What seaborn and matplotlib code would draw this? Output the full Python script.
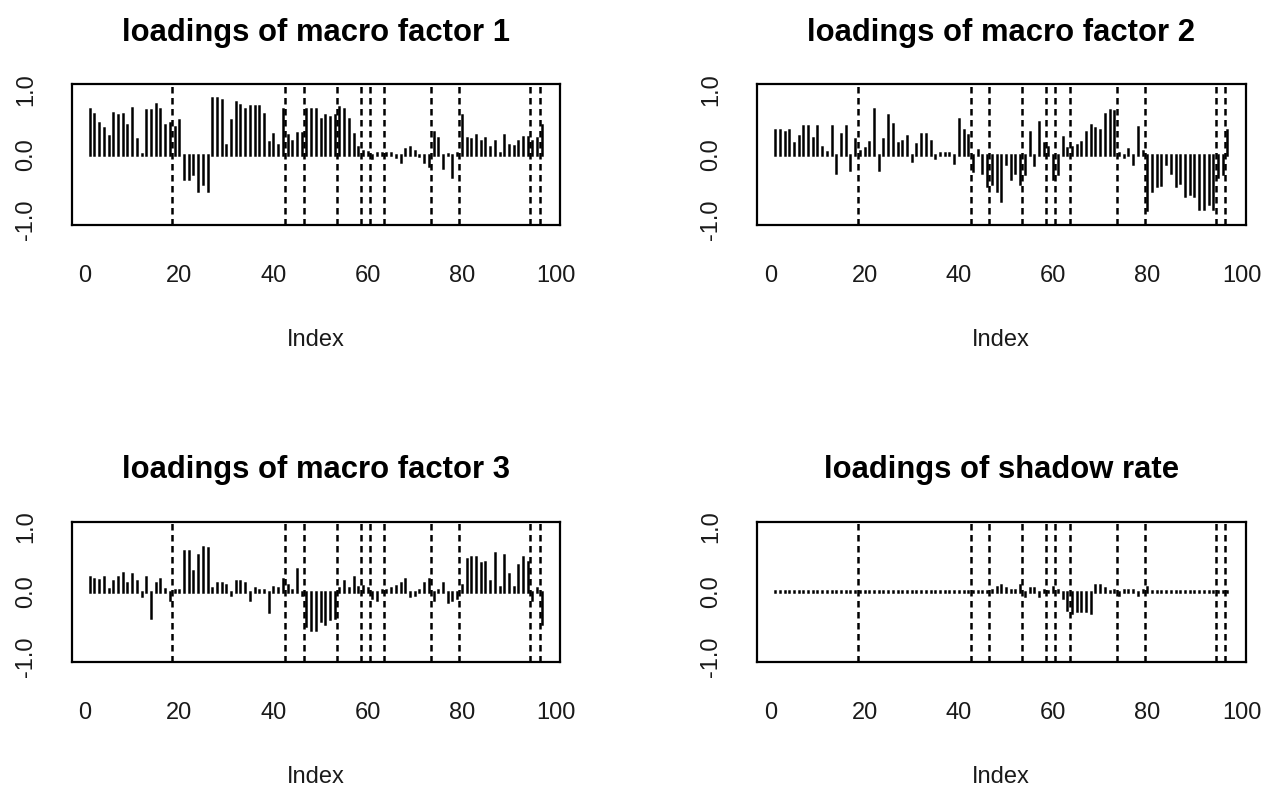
import numpy as np
import matplotlib
matplotlib.use("Agg")
import matplotlib.pyplot as plt
import seaborn as sns

# loadings of each series (index 1..97) on the three macro factors and the shadow rate
factor1 = [0.69, 0.62, 0.48, 0.41, 0.29, 0.63, 0.61, 0.62, 0.45, 0.72,
           0.23, 0.01, 0.68, 0.68, 0.77, 0.70, 0.45, 0.48, 0.42, 0.53,
           -0.37, -0.37, -0.30, -0.56, -0.45, -0.56, 0.87, 0.87, 0.84, 0.14,
           0.53, 0.80, 0.76, 0.70, 0.75, 0.75, 0.75, 0.62, 0.19, 0.31,
           0.14, 0.69, 0.30, 0.20, 0.33, 0.33, 0.69, 0.69, 0.70, 0.55,
           0.60, 0.57, 0.60, 0.73, 0.70, 0.55, 0.32, 0.12, 0.05, 0.04,
           -0.05, 0.03, 0.03, 0.02, 0.03, -0.04, -0.12, 0.08, 0.12, 0.05,
           -0.03, -0.12, -0.18, 0.35, 0.25, -0.20, 0.01, -0.35, 0.02, 0.60,
           0.25, 0.24, 0.30, 0.20, 0.25, 0.12, 0.20, 0.02, 0.30, 0.15,
           0.13, 0.20, 0.27, 0.27, 0.20, 0.25, 0.45]

factor2 = [0.38, 0.38, 0.35, 0.38, 0.17, 0.29, 0.44, 0.44, 0.26, 0.44,
           0.11, 0.04, 0.44, -0.29, 0.31, 0.44, -0.23, 0.23, 0.05, 0.10,
           0.19, 0.69, -0.23, 0.23, 0.60, 0.47, 0.17, 0.20, 0.29, -0.10,
           0.16, 0.32, 0.32, 0.20, -0.05, 0.02, 0.03, 0.02, -0.13, 0.54,
           0.38, 0.30, -0.25, 0.07, -0.29, -0.48, -0.45, -0.56, -0.71, -0.15,
           -0.38, -0.28, -0.45, -0.30, 0.34, -0.16, 0.50, 0.18, 0.12, -0.38,
           -0.30, 0.27, 0.10, 0.12, 0.15, 0.19, 0.34, 0.45, 0.40, 0.37,
           0.62, 0.68, 0.66, 0.03, -0.04, 0.09, -0.15, 0.42, 0.05, -0.85,
           -0.56, -0.48, -0.46, -0.15, -0.29, -0.48, -0.43, -0.63, -0.61, -0.63,
           -0.84, -0.84, -0.76, -0.84, -0.35, -0.30, 0.37]

factor3 = [0.23, 0.20, 0.18, 0.23, 0.04, 0.17, 0.23, 0.29, 0.14, 0.27,
           0.17, -0.07, 0.23, -0.41, 0.14, 0.20, 0.04, -0.12, 0.03, 0.02,
           0.63, 0.63, 0.32, 0.57, 0.69, 0.67, 0.05, 0.14, 0.14, 0.10,
           -0.05, 0.17, 0.17, 0.14, -0.13, 0.05, 0.03, 0.02, -0.31, 0.08,
           0.05, 0.19, 0.10, 0.02, 0.35, -0.05, -0.53, -0.59, -0.59, -0.45,
           -0.50, -0.42, -0.40, 0.05, 0.17, 0.05, 0.23, 0.07, 0.09, 0.05,
           -0.10, -0.13, 0.03, 0.03, 0.05, 0.09, 0.14, 0.20, -0.07, -0.05,
           0.02, 0.13, 0.20, -0.12, 0.02, 0.14, -0.15, -0.12, -0.09, 0.10,
           0.51, 0.54, 0.54, 0.44, 0.45, 0.17, 0.60, 0.08, 0.57, 0.27,
           0.08, 0.41, 0.54, 0.46, -0.13, 0.05, -0.50]

shadow = [0.01, 0.01, 0.01, 0.01, 0.01, 0.01, 0.01, 0.01, 0.01, 0.01,
          0.01, 0.01, 0.01, 0.01, 0.01, 0.01, 0.01, 0.01, 0.01, 0.01,
          0.01, 0.01, 0.01, 0.01, 0.01, 0.01, 0.01, 0.01, 0.01, 0.01,
          0.01, 0.01, 0.01, 0.01, 0.01, 0.01, 0.01, 0.01, 0.01, 0.01,
          0.01, 0.01, 0.01, 0.01, 0.01, 0.01, 0.03, 0.07, 0.10, 0.05,
          0.02, 0.03, 0.10, -0.06, 0.05, 0.05, -0.07, 0.02, 0.01, 0.07,
          0.03, -0.10, -0.28, -0.33, -0.30, -0.30, -0.30, -0.33, 0.10, 0.10,
          0.05, 0.01, 0.02, -0.05, 0.02, 0.02, 0.03, -0.05, 0.02, 0.08,
          0.01, 0.01, 0.01, 0.01, 0.01, 0.01, 0.01, 0.01, 0.01, 0.01,
          0.01, 0.01, 0.01, 0.01, 0.01, 0.01, 0.01]

# group boundaries between blocks of series
breaks = [18.5, 42.5, 46.5, 53.5, 58.5, 60.5, 63.5, 73.5, 79.5, 94.5, 96.5]

titles = ["loadings of macro factor 1", "loadings of macro factor 2",
          "loadings of macro factor 3", "loadings of shadow rate"]
xticks = [0, 20, 40, 60, 80, 100]
yticks = [-1.0, -0.5, 0.0, 0.5, 1.0]
ytick_labels = ["-1.0", "", "0.0", "", "1.0"]

sns.set_theme(style="white")
plt.rcParams["font.family"] = ["Liberation Sans", "DejaVu Sans"]

W, H = 1275, 795
fig = plt.figure(figsize=(W / 100, H / 100), dpi=100)
fig.patch.set_facecolor("white")

# plot regions in pixels: (left, top, right, bottom)
boxes = [(71.7, 84.0, 560.0, 225.0), (757.0, 84.0, 1245.5, 225.0),
         (71.7, 521.5, 560.0, 662.0), (757.0, 521.5, 1245.5, 662.0)]

series = [factor1, factor2, factor3, shadow]
n = len(factor1)
idx = np.arange(1, n + 1)
ink = "#1a1a1a"

for (l, t, r, b), vals, title in zip(boxes, series, titles):
    ax = fig.add_axes([l / W, 1 - b / H, (r - l) / W, (b - t) / H])
    ax.set_facecolor("white")
    lc = ax.vlines(idx, 0, vals, color="black", lw=1.8)
    lc.set_capstyle("projecting")
    ax.vlines(breaks, -1.08, 1.08, color="black", lw=1.8,
              linestyles=[(0, (2.6, 1.8))])
    ax.set_xlim(-2.84, 100.84)
    ax.set_ylim(-1.08, 1.08)
    ax.set_xticks(xticks)
    ax.set_xticklabels([str(v) for v in xticks])
    ax.set_yticks(yticks)
    ax.set_yticklabels(ytick_labels, rotation=90, va="center")
    ax.tick_params(axis="both", direction="out", length=12, width=1.5,
                   color="black", labelsize=17, labelcolor=ink)
    ax.tick_params(axis="x", pad=17)
    ax.tick_params(axis="y", pad=13)
    for s in ax.spines.values():
        s.set_visible(True)
        s.set_color("black")
        s.set_linewidth(1.6)
    ax.grid(False)
    ax.set_xlabel("Index", fontsize=17, color=ink)
    ax.xaxis.label.set_va("center")
    ax.xaxis.set_label_coords(0.5, -(340 - 225) / (b - t))
    ax.text(0.5, 1 + 43.4 / (b - t), title, transform=ax.transAxes,
            ha="center", va="baseline", fontsize=22.3, fontweight="bold",
            color="black")

fig.savefig("out.png", dpi=100, facecolor="white")
